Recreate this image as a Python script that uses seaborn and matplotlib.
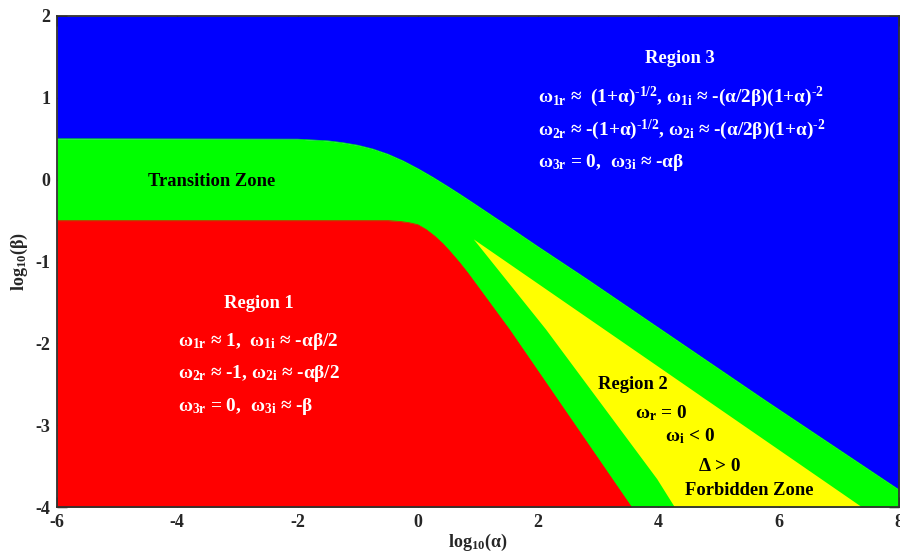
import matplotlib
matplotlib.use("Agg")
import matplotlib.pyplot as plt
import pandas as pd
import seaborn as sns

# Upper edge of the transition zone (Region 3 lies above it)
upper_x = [-6.0, -2.0, -1.5, -1.25, -1.0, -0.75, -0.5, -0.25, 0.0, 0.25, 0.5,
           0.75, 1.0, 1.25, 1.5, 2.0, 2.81, 3.98, 5.78, 8.0]
upper_y = [0.50, 0.495, 0.475, 0.452, 0.421, 0.375, 0.312, 0.231, 0.135, 0.029,
           -0.085, -0.203, -0.325, -0.448, -0.571, -0.82, -1.215, -1.80, -2.70, -3.79]

# Upper edge of Region 1
region1_x = [-6.0, -1.0, -0.5, -0.30, -0.15, 0.0, 0.14, 0.28, 0.42, 0.55, 0.69,
             0.83, 1.11, 1.52, 3.55]
region1_y = [-0.50, -0.50, -0.50, -0.51, -0.525, -0.55, -0.61, -0.69, -0.785,
             -0.89, -1.01, -1.14, -1.42, -1.83, -4.0]

# Outline of the forbidden wedge (Region 2)
region2_x = [0.93, 2.13, 3.98, 4.27, 7.38]
region2_y = [-0.73, -1.83, -3.66, -4.0, -4.0]

x_ticks = [-6, -4, -2, 0, 2, 4, 6, 8]
y_ticks = [-4, -3, -2, -1, 0, 1, 2]

BLUE, GREEN, RED, YELLOW = "#0000FF", "#00FF00", "#FF0000", "#FFFF00"

sns.set_theme(style="ticks")
plt.rcParams.update({
    "font.family": ["Liberation Serif", "DejaVu Serif"],
    "font.weight": "bold",
    "mathtext.fontset": "custom",
    "mathtext.rm": "Liberation Serif:bold",
    "mathtext.it": "Liberation Serif:bold",
    "mathtext.bf": "Liberation Serif:bold",
    "mathtext.default": "rm",
    "axes.unicode_minus": False,
})

fig = plt.figure(figsize=(9.0, 5.54), dpi=100)
ax = fig.add_axes([57 / 900, 47 / 554, 842 / 900, 491 / 554])

xmin, xmax, ymin, ymax = -6, 8, -4, 2

# Region 3 above, transition zone below the upper edge
ax.fill_between(upper_x, upper_y, ymax, color=BLUE, linewidth=0)
ax.fill_between(upper_x, ymin, upper_y, color=GREEN, linewidth=0)
# Region 1
ax.fill_between(region1_x, ymin, region1_y, color=RED, linewidth=0)
# Region 2 wedge (closed back to the tip along its straight upper side)
ax.fill(region2_x + [region2_x[0]], region2_y + [region2_y[0]],
        color=YELLOW, linewidth=0)

edges = pd.concat([
    pd.DataFrame({"x": upper_x, "y": upper_y, "edge": "upper"}),
    pd.DataFrame({"x": region1_x, "y": region1_y, "edge": "region1"}),
])
sns.lineplot(data=edges, x="x", y="y", hue="edge", sort=False, estimator=None,
             palette={"upper": GREEN, "region1": RED}, linewidth=0.5,
             legend=False, ax=ax)

ax.set_xlim(xmin, xmax)
ax.set_ylim(ymin, ymax)
ax.set_xticks(x_ticks)
ax.set_yticks(y_ticks)
ax.set_xticklabels([str(v) for v in x_ticks], fontsize=13, fontweight="bold")
ax.set_yticklabels([str(v) for v in y_ticks], fontsize=13, fontweight="bold")
ax.tick_params(direction="in", top=True, right=True, length=7, width=1.0,
               pad=5, color="black")
for s in ax.spines.values():
    s.set_visible(True)
    s.set_color("#303030")
    s.set_linewidth(1.3)

ax.set_xlabel(r"log$_{10}$(α)", fontsize=13, fontweight="bold", labelpad=0.5)
ax.set_ylabel(r"log$_{10}$(β)", fontsize=13, fontweight="bold", labelpad=4)

fs = 13.3
fe = 13.9
white = dict(color="white", fontweight="bold")
black = dict(color="black", fontweight="bold")

ax.text(-4.48, -0.08, "Transition Zone", ha="left", va="baseline",
        fontsize=fs, **black)

ax.text(-2.64, -1.57, "Region 1", ha="center", va="baseline", fontsize=fs, **white)
ax.text(-3.99, -2.03, r"$\omega_{1r}$ ≈ 1,  $\omega_{1i}$ ≈ -αβ/2",
        ha="left", va="baseline", fontsize=fe, **white)
ax.text(-3.99, -2.42, r"$\omega_{2r}$ ≈ -1, $\omega_{2i}$ ≈ -αβ/2",
        ha="left", va="baseline", fontsize=fe, **white)
ax.text(-3.99, -2.83, r"$\omega_{3r}$ = 0,  $\omega_{3i}$ ≈ -β",
        ha="left", va="baseline", fontsize=fe, **white)

ax.text(4.36, 1.42, "Region 3", ha="center", va="baseline", fontsize=fs, **white)
ax.text(1.99, 0.95,
        r"$\omega_{1r}$ ≈  (1+α)$^{\text{-1/2}}$, $\omega_{1i}$ ≈ -(α/2β)(1+α)$^{\text{-2}}$",
        ha="left", va="baseline", fontsize=fe, **white)
ax.text(1.99, 0.55,
        r"$\omega_{2r}$ ≈ -(1+α)$^{\text{-1/2}}$, $\omega_{2i}$ ≈ -(α/2β)(1+α)$^{\text{-2}}$",
        ha="left", va="baseline", fontsize=fe, **white)
ax.text(1.99, 0.16, r"$\omega_{3r}$ = 0,  $\omega_{3i}$ ≈ -αβ",
        ha="left", va="baseline", fontsize=fe, **white)

ax.text(3.57, -2.56, "Region 2", ha="center", va="baseline", fontsize=fs, **black)
ax.text(3.61, -2.91, r"$\omega_{r}$ = 0", ha="left", va="baseline", fontsize=fe, **black)
ax.text(4.11, -3.20, r"$\omega_{i}$ < 0", ha="left", va="baseline", fontsize=fe, **black)
ax.text(4.67, -3.56, "Δ > 0", ha="left", va="baseline", fontsize=fe, **black)
ax.text(4.45, -3.85, "Forbidden Zone", ha="left", va="baseline", fontsize=fs, **black)

fig.savefig("out.png", dpi=100)
